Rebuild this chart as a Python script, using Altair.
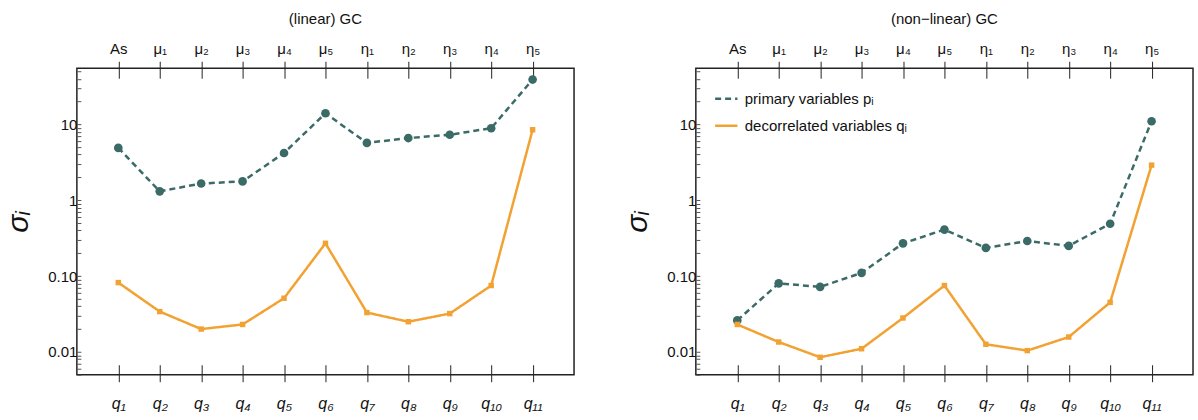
import altair as alt
import pandas as pd

top_labels = ["As", "μ₁", "μ₂", "μ₃", "μ₄", "μ₅", "η₁", "η₂", "η₃", "η₄", "η₅"]
bottom_labels = ["q₁", "q₂", "q₃", "q₄", "q₅", "q₆", "q₇", "q₈", "q₉", "q₁₀", "q₁₁"]

lin_primary = [4.9, 1.31, 1.66, 1.77, 4.2, 14.0, 5.7, 6.6, 7.3, 8.9, 39.0]
lin_decor = [0.082, 0.034, 0.020, 0.023, 0.051, 0.27, 0.033, 0.025, 0.032, 0.075, 8.5]
nl_primary = [0.026, 0.080, 0.072, 0.11, 0.27, 0.41, 0.235, 0.29, 0.25, 0.49, 11.0]
nl_decor = [0.023, 0.0135, 0.0085, 0.011, 0.028, 0.075, 0.0126, 0.0104, 0.0157, 0.045, 2.9]

series_names = ["primary variables pᵢ", "decorrelated variables qᵢ"]
TEAL = "#3b6b67"
ORANGE = "#f2a232"
FONT = "Liberation Sans"

minor_vals = []
for e in range(-3, 2):
    for k in range(1, 10):
        v = k * 10 ** e
        if 0.005 <= v <= 55:
            minor_vals.append(round(v, 6))


def make_df(prim, dec):
    rows = []
    for i, v in enumerate(prim):
        rows.append({"idx": i + 1, "val": v, "series": series_names[0]})
    for i, v in enumerate(dec):
        rows.append({"idx": i + 1, "val": v, "series": series_names[1]})
    return pd.DataFrame(rows)


def legend_params():
    return alt.Legend(
        title=None,
        orient="none",
        legendX=18,
        legendY=18,
        labelFontSize=15,
        labelFont=FONT,
        labelColor="#111",
        labelLimit=0,
        symbolType="stroke",
        symbolSize=500,
        symbolStrokeWidth=2.5,
        rowPadding=6,
        labelOffset=6,
    )


def panel(prim, dec, title, show_legend):
    df = make_df(prim, dec)
    top_expr = "[" + ",".join("'%s'" % s for s in top_labels) + "][datum.value-1]"
    bot_expr = "[" + ",".join("'%s'" % s for s in bottom_labels) + "][datum.value-1]"
    yscale = alt.Scale(type="log", domain=[0.005, 55])
    yaxis = alt.Axis(
        values=minor_vals,
        labelExpr="datum.value==0.01?'0.01':datum.value==0.1?'0.10':datum.value==1?'1':datum.value==10?'10':''",
        labelOverlap=False,
        tickSize=4,
        offset=-4,
        domain=False,
        grid=False,
        labelPadding=0,
        labelFontSize=15,
        labelFont=FONT,
        labelColor="#111",
        tickColor="#555",
        title="σᵢ",
        titleFontSize=30,
        titleFont=FONT,
        titleFontStyle="italic",
        titleFontWeight="normal",
        titlePadding=14,
        titleColor="#111",
    )
    xscale = alt.Scale(domain=[0, 12], nice=False)
    color = alt.Color(
        "series:N",
        scale=alt.Scale(domain=series_names, range=[TEAL, ORANGE]),
        legend=legend_params() if show_legend else None,
    )
    dash = alt.StrokeDash(
        "series:N",
        scale=alt.Scale(domain=series_names, range=[[6, 4], [1, 0]]),
        legend=legend_params() if show_legend else None,
    )
    base = alt.Chart(df)
    lines = base.mark_line(strokeWidth=2.5).encode(
        x=alt.X("idx:Q", scale=xscale, axis=alt.Axis(
            orient="bottom", values=list(range(1, 12)), labelExpr=bot_expr,
            tickSize=17, offset=-10, domain=False, grid=False, labelPadding=14,
            labelFontSize=16, labelFont=FONT, labelFontStyle="italic", labelColor="#111",
            tickColor="#222", title=None)),
        y=alt.Y("val:Q", scale=yscale, axis=yaxis),
        color=color,
        strokeDash=dash,
    )
    pts_p = base.transform_filter(alt.datum.series == series_names[0]).mark_point(
        filled=True, shape="circle", size=75, opacity=1, color=TEAL
    ).encode(
        x=alt.X("idx:Q", scale=xscale, axis=alt.Axis(
            orient="top", values=list(range(1, 12)), labelExpr=top_expr,
            tickSize=17, offset=-10, domain=False, grid=False, labelPadding=5,
            labelFontSize=15, labelFont=FONT, labelColor="#111",
            tickColor="#222", title=None)),
        y=alt.Y("val:Q", scale=yscale),
    )
    pts_d = base.transform_filter(alt.datum.series == series_names[1]).mark_point(
        filled=True, shape="square", size=30, opacity=1, color=ORANGE
    ).encode(
        x=alt.X("idx:Q", scale=xscale, axis=None),
        y=alt.Y("val:Q", scale=yscale),
    )
    return alt.layer(lines, pts_p, pts_d).resolve_axis(x="independent").properties(
        width=498, height=307,
        title=alt.TitleParams(title, fontSize=15, font=FONT, fontWeight="normal",
                              color="#111", offset=14),
    )


left = panel(lin_primary, lin_decor, "(linear) GC", False)
right = panel(nl_primary, nl_decor, "(non−linear) GC", True)

chart = alt.hconcat(left, right, spacing=47).resolve_scale(
    color="independent", strokeDash="independent"
).properties(
    padding={"left": 3, "top": 11, "right": 4, "bottom": 4},
    background="white",
).configure_view(stroke="#222", strokeWidth=1.5)

chart.save("out.html", embed_options={"renderer": "svg", "actions": False})
